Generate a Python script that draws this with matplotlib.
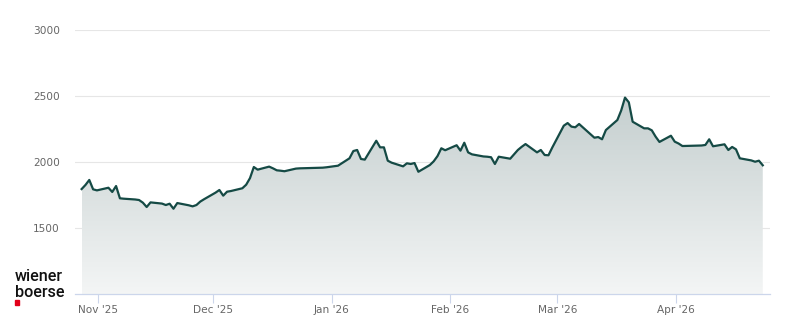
import matplotlib
matplotlib.use("Agg")
import matplotlib.pyplot as plt
import matplotlib.dates as mdates
from matplotlib.patches import Rectangle
import numpy as np
import pandas as pd

dates = [
    "2025-10-27", "2025-10-28", "2025-10-29", "2025-10-30", "2025-10-31",
    "2025-11-03", "2025-11-04", "2025-11-05", "2025-11-06", "2025-11-07",
    "2025-11-10", "2025-11-11", "2025-11-12", "2025-11-13", "2025-11-14",
    "2025-11-17", "2025-11-18", "2025-11-19", "2025-11-20", "2025-11-21",
    "2025-11-24", "2025-11-25", "2025-11-26", "2025-11-27", "2025-11-28",
    "2025-12-01", "2025-12-02", "2025-12-03", "2025-12-04", "2025-12-05",
    "2025-12-08", "2025-12-09", "2025-12-10", "2025-12-11", "2025-12-12",
    "2025-12-15", "2025-12-16", "2025-12-17", "2025-12-18", "2025-12-19",
    "2025-12-22", "2025-12-23", "2025-12-29", "2025-12-30", "2026-01-02",
    "2026-01-05", "2026-01-06", "2026-01-07", "2026-01-08", "2026-01-09",
    "2026-01-12", "2026-01-13", "2026-01-14", "2026-01-15", "2026-01-16",
    "2026-01-19", "2026-01-20", "2026-01-21", "2026-01-22", "2026-01-23",
    "2026-01-26", "2026-01-27", "2026-01-28", "2026-01-29", "2026-01-30",
    "2026-02-02", "2026-02-03", "2026-02-04", "2026-02-05", "2026-02-06",
    "2026-02-09", "2026-02-10", "2026-02-11", "2026-02-12", "2026-02-13",
    "2026-02-16", "2026-02-17", "2026-02-18", "2026-02-19", "2026-02-20",
    "2026-02-23", "2026-02-24", "2026-02-25", "2026-02-26", "2026-02-27",
    "2026-03-02", "2026-03-03", "2026-03-04", "2026-03-05", "2026-03-06",
    "2026-03-09", "2026-03-10", "2026-03-11", "2026-03-12", "2026-03-13",
    "2026-03-16", "2026-03-17", "2026-03-18", "2026-03-19", "2026-03-20",
    "2026-03-23", "2026-03-24", "2026-03-25", "2026-03-26", "2026-03-27",
    "2026-03-30", "2026-03-31", "2026-04-01", "2026-04-02",
    "2026-04-07", "2026-04-08", "2026-04-09", "2026-04-10",
    "2026-04-13", "2026-04-14", "2026-04-15", "2026-04-16", "2026-04-17",
    "2026-04-20", "2026-04-21", "2026-04-22", "2026-04-23",
]
values = [
    1795, 1826, 1864, 1793, 1785,
    1805, 1773, 1818, 1725, 1722,
    1716, 1712, 1692, 1659, 1694,
    1685, 1674, 1684, 1646, 1689,
    1672, 1664, 1674, 1700, 1718,
    1768, 1788, 1745, 1775, 1780,
    1801, 1828, 1878, 1962, 1942,
    1965, 1952, 1937, 1934, 1930,
    1950, 1952, 1957, 1960, 1972,
    2028, 2083, 2091, 2023, 2018,
    2161, 2111, 2111, 2010, 1995,
    1967, 1990, 1985, 1992, 1926,
    1977, 2005, 2045, 2104, 2089,
    2127, 2086, 2146, 2073, 2058,
    2042, 2040, 2036, 1985, 2040,
    2025, 2058, 2091, 2115, 2136,
    2073, 2091, 2053, 2051, 2110,
    2275, 2295, 2268, 2263, 2288,
    2210, 2184, 2189, 2172, 2242,
    2318, 2390, 2488, 2452, 2305,
    2255, 2255, 2240, 2192, 2152,
    2199, 2154, 2140, 2121,
    2125, 2129, 2172, 2119,
    2134, 2091, 2114, 2096, 2028,
    2012, 2002, 2010, 1975,
]
y_ticks = [1500, 2000, 2500, 3000]
x_tick_dates = ["2025-11-01", "2025-12-01", "2026-01-01", "2026-02-01", "2026-03-01", "2026-04-01"]
x_tick_labels = ["Nov '25", "Dec '25", "Jan '26", "Feb '26", "Mar '26", "Apr '26"]

W, H = 800, 324
fig = plt.figure(figsize=(W / 100, H / 100), dpi=100)
ax = fig.add_axes([75 / W, 1 - 294 / H, 695 / W, (294 - 30) / H])

t = pd.to_datetime(dates) + pd.Timedelta(hours=15.6)
xn = mdates.date2num(t)
v = np.array(values, dtype=float)
ymin = 1000

# gradient fill
poly = ax.fill_between(xn, v, ymin, color="none", lw=0)
grad = np.linspace(0, 1, 256).reshape(-1, 1)
top_c = np.array([0.77, 0.81, 0.81])
bot_c = np.array([0.955, 0.962, 0.962])
img = top_c * (1 - grad[..., None]) + bot_c * grad[..., None]
img = img.reshape(256, 1, 3)
im = ax.imshow(img, extent=[xn.min(), xn.max(), ymin, v.max()], aspect="auto",
               origin="upper", zorder=1, interpolation="bilinear")
path = poly.get_paths()[0]
im.set_clip_path(path, transform=ax.transData)

ax.plot(xn, v, color="#154a45", lw=1.6, zorder=3, solid_joinstyle="round")

ax.set_xlim(mdates.date2num(pd.Timestamp("2025-10-25 22:00")),
            mdates.date2num(pd.Timestamp("2026-04-25 13:00")))
ax.set_ylim(ymin, 3000)

ax.set_yticks(y_ticks)
ax.set_yticklabels([str(y) for y in y_ticks])
ax.set_xticks(mdates.date2num(pd.to_datetime(x_tick_dates)))
ax.set_xticklabels(x_tick_labels)

for yv in y_ticks:
    ax.axhline(yv, color="#e6e6e6", lw=0.8, zorder=0)

for s in ["top", "right", "left"]:
    ax.spines[s].set_visible(False)
ax.spines["bottom"].set_color("#ccd6eb")
ax.spines["bottom"].set_linewidth(0.9)
ax.spines["bottom"].set_zorder(4)

ax.tick_params(axis="y", length=0, pad=11, labelsize=7.6, labelcolor="#666666")
ax.tick_params(axis="x", length=6.5, width=0.8, color="#ccd6eb", pad=1.5,
               labelsize=7.6, labelcolor="#666666")
ax.set_facecolor("white")

# logo
fig.text(15 / W, 1 - 281 / H, "wiener", fontsize=11.6, color="#111111",
         family=["Roboto", "Liberation Sans"], fontweight="medium",
         va="baseline", ha="left")
fig.text(15 / W, 1 - 297 / H, "boerse", fontsize=11.6, color="#111111",
         family=["Roboto", "Liberation Sans"], fontweight="medium",
         va="baseline", ha="left")
fig.patches.append(Rectangle((15 / W, 1 - 305 / H), 4 / W, 5 / H,
                             transform=fig.transFigure, color="#e2001a"))

fig.savefig("out.png", dpi=100)
